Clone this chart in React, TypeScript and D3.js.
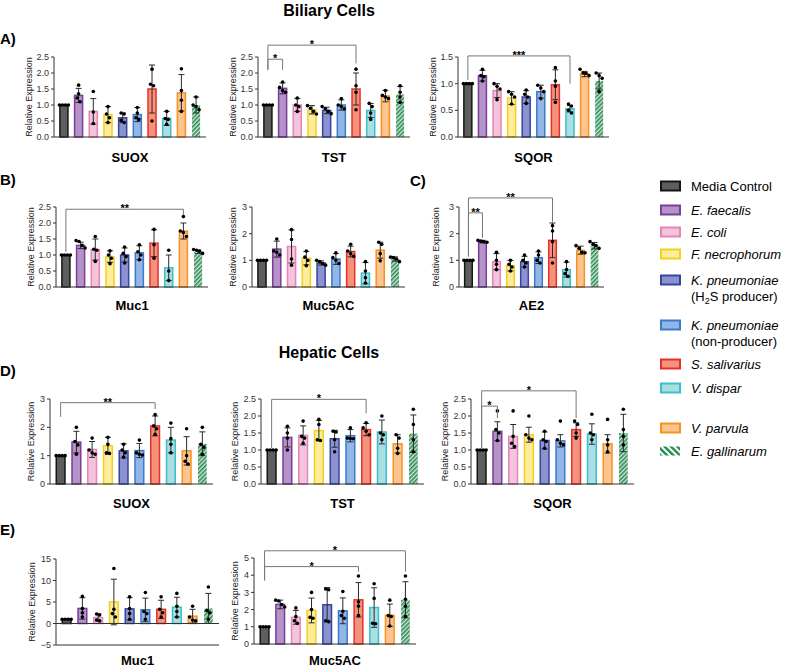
import React from 'react';
import * as d3 from 'd3';

// bar order: Media Control, E. faecalis, E. coli, F. necrophorum, K. pneumoniae (H2S),
// K. pneumoniae (non-producer), S. salivarius, V. dispar, V. parvula, E. gallinarum
const fills = ['#5e5e5e', '#b592c9', '#f4c3dc', '#fcec9c', '#8b92cf', '#93b6e6', '#f5927c', '#a9dfe2', '#fcc48f', 'url(#hatchBar)'];
const strokes = ['#161616', '#7a3e98', '#e485b8', '#f2d01e', '#34479e', '#3a7bcc', '#e8302a', '#3bbfc8', '#f7921e', '#2e8b57'];

const legendNames = ['Media Control', 'E. faecalis', 'E. coli', 'F. necrophorum', 'K. pneumoniae', 'K. pneumoniae', 'S. salivarius', 'V. dispar', 'V. parvula', 'E. gallinarum'];
const legendSecond = ['', '', '', '', 'h2s', '(non-producer)', '', '', '', ''];

// ---- Biliary cells ----
const bilSuoxMean = [1.0, 1.3, 0.8, 0.7, 0.6, 0.7, 1.5, 0.58, 1.38, 1.0];
const bilSuoxSd = [0, 0.22, 0.4, 0.25, 0.15, 0.22, 0.75, 0.22, 0.57, 0.25];
const bilSuoxPts = [[1, 1, 1, 1], [1.62, 1.35, 1.22, 1.1], [1.42, 0.78, 0.42], [0.95, 0.72, 0.6, 0.45], [0.75, 0.72, 0.52, 0.45], [0.92, 0.75, 0.6, 0.55], [2.12, 1.65, 1.6, 0.5], [0.8, 0.58, 0.55, 0.4], [2.13, 1.45, 1.15, 0.8], [1.25, 1.0, 0.95, 0.85]];

const bilTstMean = [1.0, 1.52, 1.0, 0.85, 0.83, 1.0, 1.5, 0.83, 1.28, 1.33];
const bilTstSd = [0, 0.17, 0.2, 0.13, 0.1, 0.16, 0.5, 0.22, 0.18, 0.25];
const bilTstPts = [[1, 1, 1, 1], [1.72, 1.55, 1.45, 1.4], [1.22, 1.0, 0.95, 0.8], [0.98, 0.9, 0.8, 0.72], [0.95, 0.88, 0.8, 0.73], [1.2, 1.0, 0.95, 0.88], [2.12, 1.6, 1.4, 0.85], [1.05, 0.95, 0.75, 0.55], [1.45, 1.3, 1.25, 1.2], [1.6, 1.4, 1.25, 1.08]];

const bilSqorMean = [1.0, 1.15, 0.87, 0.73, 0.75, 0.85, 0.98, 0.53, 1.18, 1.05];
const bilSqorSd = [0, 0.1, 0.13, 0.12, 0.12, 0.12, 0.28, 0.06, 0.05, 0.15];
const bilSqorPts = [[1, 1, 1, 1], [1.27, 1.15, 1.13, 1.05], [1.0, 0.95, 0.9, 0.7], [0.85, 0.8, 0.75, 0.62], [0.88, 0.8, 0.75, 0.63], [0.97, 0.92, 0.85, 0.72], [1.3, 1.05, 0.95, 0.65], [0.62, 0.58, 0.5, 0.45], [1.27, 1.2, 1.19, 1.15], [1.2, 1.15, 1.1, 0.85]];

const bilMuc1Mean = [1.0, 1.3, 1.17, 0.95, 1.0, 1.07, 1.37, 0.6, 1.75, 1.1];
const bilMuc1Sd = [0, 0.1, 0.33, 0.18, 0.22, 0.22, 0.42, 0.4, 0.25, 0.05];
const bilMuc1Pts = [[1, 1, 1, 1], [1.45, 1.42, 1.3, 1.22], [1.58, 1.18, 1.15, 0.8], [1.13, 1.0, 0.9, 0.73], [1.25, 1.05, 0.95, 0.75], [1.32, 1.1, 1.0, 0.85], [1.8, 1.32, 0.9], [1.15, 0.5, 0.2], [2.2, 1.75, 1.7, 1.58], [1.17, 1.15, 1.12, 1.05]];

const bilMuc5acMean = [1.0, 1.42, 1.52, 1.08, 0.9, 1.05, 1.33, 0.52, 1.38, 1.05];
const bilMuc5acSd = [0, 0.3, 0.62, 0.25, 0.08, 0.2, 0.2, 0.4, 0.3, 0.08];
const bilMuc5acPts = [[1, 1, 1, 1], [1.8, 1.35, 1.3, 1.2], [2.15, 1.78, 1.05, 0.82], [1.35, 1.12, 1.0, 0.8], [1.0, 0.95, 0.88, 0.82], [1.28, 1.1, 1.0, 0.88], [1.6, 1.35, 1.25, 1.15], [0.95, 0.6, 0.35, 0.15], [1.68, 1.6, 1.25, 0.98], [1.12, 1.1, 1.05, 0.95]];

const bilAe2Mean = [1.0, 1.7, 0.95, 0.8, 0.95, 1.1, 1.75, 0.65, 1.38, 1.55];
const bilAe2Sd = [0, 0.05, 0.3, 0.2, 0.2, 0.22, 0.65, 0.28, 0.15, 0.12];
const bilAe2Pts = [[1, 1, 1, 1], [1.75, 1.72, 1.7, 1.68], [1.3, 1.0, 0.85, 0.65], [1.0, 0.85, 0.75, 0.6], [1.2, 1.0, 0.9, 0.75], [1.35, 1.2, 1.0, 0.9], [2.3, 2.1, 1.7, 0.9], [0.95, 0.65, 0.5, 0.4], [1.55, 1.45, 1.3, 1.28], [1.7, 1.6, 1.55, 1.45]];

// ---- Hepatic cells ----
const hepSuoxMean = [1.0, 1.48, 1.22, 1.35, 1.17, 1.18, 2.05, 1.55, 1.17, 1.42];
const hepSuoxSd = [0, 0.38, 0.28, 0.3, 0.25, 0.25, 0.35, 0.45, 0.5, 0.42];
const hepSuoxPts = [[1, 1, 1, 1], [2.0, 1.5, 1.38, 1.05], [1.62, 1.2, 1.1, 1.05], [1.65, 1.4, 1.1, 1.08], [1.4, 1.2, 1.1, 0.95], [1.55, 1.1, 1.05, 1.02], [2.45, 2.05, 1.95, 1.75], [2.15, 1.6, 1.4, 1.1], [1.95, 1.0, 0.8, 0.7], [2.0, 1.4, 1.3, 1.05]];

const hepTstMean = [1.0, 1.37, 1.43, 1.57, 1.33, 1.42, 1.6, 1.53, 1.18, 1.48];
const hepTstSd = [0, 0.28, 0.28, 0.3, 0.25, 0.18, 0.18, 0.35, 0.27, 0.55];
const hepTstPts = [[1, 1, 1, 1], [1.7, 1.5, 1.35, 1.0], [1.85, 1.4, 1.35, 1.2], [1.9, 1.75, 1.3, 1.28], [1.55, 1.53, 1.3, 0.95], [1.65, 1.35, 1.34, 1.33], [1.8, 1.65, 1.55, 1.45], [2.0, 1.5, 1.45, 1.3], [1.45, 1.35, 1.05, 0.9], [2.2, 1.75, 1.3, 0.95]];

const hepSqorMean = [1.0, 1.55, 1.4, 1.45, 1.28, 1.27, 1.6, 1.47, 1.18, 1.5];
const hepSqorSd = [0, 0.28, 0.35, 0.22, 0.25, 0.18, 0.2, 0.3, 0.27, 0.55];
const hepSqorPts = [[1, 1, 1, 1], [2.15, 1.6, 1.5, 1.28], [2.15, 1.4, 1.2, 1.1], [2.0, 1.45, 1.35, 1.3], [1.55, 1.3, 1.25, 1.05], [1.85, 1.3, 1.2, 1.15], [1.85, 1.75, 1.5, 1.35], [2.05, 1.5, 1.45, 1.3], [1.9, 1.3, 1.15, 0.95], [2.2, 1.6, 1.4, 1.15]];

const hepMuc1Mean = [1.0, 3.5, 1.4, 5.0, 3.4, 3.2, 3.3, 3.8, 1.7, 3.5];
const hepMuc1Sd = [0, 2.5, 0.8, 5.3, 2.6, 2.7, 2.1, 2.3, 1.6, 3.5];
const hepMuc1Pts = [[1, 1, 1, 1], [6.3, 3.5, 2.5, 1.5], [2.2, 2.0, 0.8, 0.6], [12.8, 3.3, 2.3, 1.5], [6.2, 3.5, 2.3, 1.0], [7.2, 2.8, 2.3, 1.0], [6.2, 3.3, 2.5, 1.5], [7.0, 4.0, 2.8, 1.5], [4.0, 1.5, 0.8, 0.6], [8.5, 3.0, 2.5, 1.0]];

const hepMuc5acMean = [1.0, 2.3, 1.55, 1.95, 2.28, 1.93, 2.57, 2.12, 1.67, 2.57];
const hepMuc5acSd = [0, 0.25, 0.4, 0.72, 1.0, 0.75, 1.0, 1.15, 0.65, 1.05];
const hepMuc5acPts = [[1, 1, 1, 1], [2.55, 2.5, 2.3, 2.15], [2.1, 1.6, 1.35, 1.2], [3.0, 2.0, 1.55, 1.5], [3.2, 3.15, 1.35, 1.3], [3.05, 1.9, 1.65, 1.5], [3.95, 2.45, 2.2, 1.65], [3.5, 2.65, 1.2, 1.18], [2.55, 1.65, 1.6, 1.05], [3.95, 2.6, 2.2, 1.6]];

const FONT = '"Liberation Sans", Arial, sans-serif';

type Bracket = { a: number; b: number; y: number; ya: number; yb: number; label: string };
type PanelCfg = {
  title: string; x0: number; x1: number; yTop: number; yBot: number; titleGap: number;
  domain: [number, number]; ticks: number[]; fmt: string; labelGap: number;
  mean: number[]; sd: number[]; pts: number[][]; brackets: Bracket[];
};

// spread points that sit close together sideways, like Prism's scatter
function spread(vals: number[], thresh: number) {
  const idx = vals.map((_, i) => i).sort((a, b) => vals[b] - vals[a]);
  const out = new Array(vals.length).fill(0);
  let g = [idx[0]];
  const flush = () => g.forEach((k, j) => { out[k] = (j - (g.length - 1) / 2) * 3; });
  for (let i = 1; i < idx.length; i++) {
    if (vals[g[g.length - 1]] - vals[idx[i]] < thresh) g.push(idx[i]);
    else { flush(); g = [idx[i]]; }
  }
  flush();
  return out;
}

function Panel({ c }: { c: PanelCfg }) {
  const x = d3.scaleBand<number>().domain(d3.range(10)).range([c.x0, c.x1]).paddingInner(0.35).paddingOuter(0.35);
  const y = d3.scaleLinear().domain(c.domain).range([c.yBot, c.yTop]);
  const fmt = d3.format(c.fmt);
  const bw = x.bandwidth();
  const base = y(Math.max(0, c.domain[0]));
  const thresh = (c.domain[1] - c.domain[0]) * 0.05;
  return (
    <g>
      {c.mean.map((m, i) => (
        <rect key={'b' + i} x={x(i)! + 0.75} y={y(m)} width={bw - 1.5} height={base - y(m)}
          fill={fills[i]} stroke={i === 9 ? 'none' : strokes[i]} strokeWidth={1.5} />
      ))}
      {c.mean.map((m, i) => {
        const cx = x(i)! + bw / 2;
        const s = c.sd[i];
        if (!s) return null;
        return (
          <g key={'e' + i} stroke="#2a2a2a" strokeWidth={1}>
            <line x1={cx} x2={cx} y1={y(m - s)} y2={y(m + s)} />
            <line x1={cx - 3} x2={cx + 3} y1={y(m + s)} y2={y(m + s)} />
            <line x1={cx - 3} x2={cx + 3} y1={y(m - s)} y2={y(m - s)} />
          </g>
        );
      })}
      {c.pts.map((p, i) => {
        const cx = x(i)! + bw / 2;
        const off = spread(p, thresh);
        return p.map((v, j) => <circle key={'p' + i + '-' + j} cx={cx + off[j]} cy={y(v)} r={1.8} fill="#000" />);
      })}
      {/* axes */}
      <g stroke="#333" strokeWidth={1} fill="none">
        <line x1={c.x0} x2={c.x0} y1={c.yTop} y2={c.yBot} />
        <line x1={c.x0} x2={c.x1} y1={c.yBot} y2={c.yBot} />
        {c.domain[0] < 0 && <line x1={c.x0} x2={c.x1} y1={y(0)} y2={y(0)} />}
        {c.ticks.map((t) => <line key={'t' + t} x1={c.x0 - 3} x2={c.x0} y1={y(t)} y2={y(t)} />)}
      </g>
      {c.ticks.map((t) => (
        <text key={'tl' + t} x={c.x0 - 5} y={y(t)} dy="0.35em" textAnchor="end" fontSize={9} fill="#333">{fmt(t)}</text>
      ))}
      <text transform={`translate(${c.x0 - c.labelGap},${(c.yTop + c.yBot) / 2}) rotate(-90)`} textAnchor="middle" dy="0.35em" fontSize={9} fill="#222">
        Relative Expression
      </text>
      <text x={(c.x0 + c.x1) / 2} y={c.yBot + c.titleGap} dy="0.35em" textAnchor="middle" fontSize={13} fontWeight="bold">{c.title}</text>
      {c.brackets.map((b, k) => {
        const xa = x(b.a)! + bw / 2;
        const xb = x(b.b)! + bw / 2;
        return (
          <g key={'k' + k}>
            <path d={`M${xa},${y(b.ya)}V${y(b.y)}H${xb}V${y(b.yb)}`} stroke="#777" fill="none" strokeWidth={1} />
            <text x={(xa + xb) / 2} y={y(b.y) + 3} textAnchor="middle" fontSize={11} fontWeight="bold" fill="#000">{b.label}</text>
          </g>
        );
      })}
    </g>
  );
}

const t25 = [0, 0.5, 1, 1.5, 2, 2.5];
const t3 = [0, 1, 2, 3];

const panels: PanelCfg[] = [
  { title: 'SUOX', x0: 54, x1: 206, yTop: 57, yBot: 137, titleGap: 20, domain: [0, 2.5], ticks: t25, fmt: '.1f', labelGap: 25, mean: bilSuoxMean, sd: bilSuoxSd, pts: bilSuoxPts, brackets: [] },
  { title: 'TST', x0: 258, x1: 410, yTop: 57, yBot: 137, titleGap: 20, domain: [0, 2.5], ticks: t25, fmt: '.1f', labelGap: 25, mean: bilTstMean, sd: bilTstSd, pts: bilTstPts,
    brackets: [{ a: 0, b: 1, y: 2.43, ya: 2.1, yb: 2.1, label: '*' }, { a: 0, b: 6, y: 2.87, ya: 2.1, yb: 2.3, label: '*' }] },
  { title: 'SQOR', x0: 458, x1: 609, yTop: 57, yBot: 137, titleGap: 20, domain: [0, 1.5], ticks: [0, 0.5, 1, 1.5], fmt: '.1f', labelGap: 25, mean: bilSqorMean, sd: bilSqorSd, pts: bilSqorPts,
    brackets: [{ a: 0, b: 7, y: 1.52, ya: 1.07, yb: 1.0, label: '***' }] },
  { title: 'Muc1', x0: 56, x1: 208, yTop: 207, yBot: 287, titleGap: 18, domain: [0, 2.5], ticks: t25, fmt: '.1f', labelGap: 25, mean: bilMuc1Mean, sd: bilMuc1Sd, pts: bilMuc1Pts,
    brackets: [{ a: 0, b: 8, y: 2.43, ya: 1.1, yb: 2.25, label: '**' }] },
  { title: 'Muc5AC', x0: 252, x1: 405, yTop: 207, yBot: 287, titleGap: 18, domain: [0, 3], ticks: t3, fmt: 'd', labelGap: 19, mean: bilMuc5acMean, sd: bilMuc5acSd, pts: bilMuc5acPts, brackets: [] },
  { title: 'AE2', x0: 459, x1: 604, yTop: 207, yBot: 287, titleGap: 18, domain: [0, 3], ticks: t3, fmt: 'd', labelGap: 23, mean: bilAe2Mean, sd: bilAe2Sd, pts: bilAe2Pts,
    brackets: [{ a: 0, b: 1, y: 2.78, ya: 1.14, yb: 1.84, label: '**' }, { a: 0, b: 6, y: 3.34, ya: 1.14, yb: 2.45, label: '**' }] },
  { title: 'SUOX', x0: 50, x1: 213, yTop: 399, yBot: 484, titleGap: 19, domain: [0, 3], ticks: t3, fmt: 'd', labelGap: 19, mean: hepSuoxMean, sd: hepSuoxSd, pts: hepSuoxPts,
    brackets: [{ a: 0, b: 6, y: 2.87, ya: 2.37, yb: 2.65, label: '**' }] },
  { title: 'TST', x0: 261, x1: 424, yTop: 399, yBot: 484, titleGap: 19, domain: [0, 2.5], ticks: t25, fmt: '.1f', labelGap: 26, mean: hepTstMean, sd: hepTstSd, pts: hepTstPts,
    brackets: [{ a: 0, b: 6, y: 2.49, ya: 1.06, yb: 2.08, label: '*' }] },
  { title: 'SQOR', x0: 471, x1: 634, yTop: 399, yBot: 484, titleGap: 19, domain: [0, 2.5], ticks: t25, fmt: '.1f', labelGap: 26, mean: hepSqorMean, sd: hepSqorSd, pts: hepSqorPts,
    brackets: [{ a: 0, b: 1, y: 2.29, ya: 1.06, yb: 1.94, label: '*' }, { a: 0, b: 6, y: 2.74, ya: 1.06, yb: 1.94, label: '*' }] },
  { title: 'Muc1', x0: 56, x1: 219, yTop: 559, yBot: 645, titleGap: 15, domain: [-5, 15], ticks: [-5, 0, 5, 10, 15], fmt: 'd', labelGap: 24, mean: hepMuc1Mean, sd: hepMuc1Sd, pts: hepMuc1Pts, brackets: [] },
  { title: 'Muc5AC', x0: 254, x1: 416, yTop: 558, yBot: 644, titleGap: 16, domain: [0, 5], ticks: [0, 1, 2, 3, 4, 5], fmt: 'd', labelGap: 19, mean: hepMuc5acMean, sd: hepMuc5acSd, pts: hepMuc5acPts,
    brackets: [{ a: 0, b: 6, y: 4.5, ya: 3.7, yb: 4.2, label: '*' }, { a: 0, b: 9, y: 5.42, ya: 3.7, yb: 4.2, label: '*' }] },
];

const letters = [['A)', 0, 39], ['B)', 0, 180], ['C)', 410, 181], ['D)', 0, 371], ['E)', 0, 530]] as const;
const legendY = [186, 210, 232, 254, 280, 325, 364, 388, 428, 451];

export default function App() {
  return (
    <svg width={789} height={670} style={{ position: 'absolute', left: 0, top: 0, background: '#fff' }} fontFamily={FONT}>
      <defs>
        <pattern id="hatchBar" patternUnits="userSpaceOnUse" width={3} height={3} patternTransform="rotate(45)">
          <rect width={3} height={3} fill="#cde8d5" />
          <line x1={0.8} y1={0} x2={0.8} y2={3} stroke="#2e8b57" strokeWidth={1.6} />
        </pattern>
        <pattern id="hatchLegend" patternUnits="userSpaceOnUse" width={4.5} height={4.5} patternTransform="rotate(-45)">
          <rect width={4.5} height={4.5} fill="#fff" />
          <line x1={1.2} y1={0} x2={1.2} y2={4.5} stroke="#1f8a4c" strokeWidth={2.4} />
        </pattern>
      </defs>
      <rect width={789} height={670} fill="#fff" />
      <text x={329} y={10} dy="0.35em" textAnchor="middle" fontSize={16} fontWeight="bold">Biliary Cells</text>
      <text x={329} y={352} dy="0.35em" textAnchor="middle" fontSize={16} fontWeight="bold">Hepatic Cells</text>
      {letters.map(([t, lx, ly]) => (
        <text key={t} x={lx} y={ly} dy="0.35em" fontSize={15} fontWeight="bold">{t}</text>
      ))}
      {panels.map((c, i) => <Panel key={i} c={c} />)}
      <g>
        {legendNames.map((n, i) => (
          <g key={'l' + i}>
            {i === 9 ? (
              <rect x={660} y={legendY[i] - 4.5} width={20} height={9} fill="url(#hatchLegend)" />
            ) : (
              <rect x={661} y={legendY[i] - 4.5} width={19} height={9} fill={fills[i]} stroke={strokes[i]} strokeWidth={2} />
            )}
            <text x={691} y={legendY[i]} dy="0.35em" fontSize={13} fontStyle={i === 0 ? 'normal' : 'italic'}>{n}</text>
            {legendSecond[i] === 'h2s' && (
              <text x={691} y={legendY[i] + 16} dy="0.35em" fontSize={13}>
                (H<tspan fontSize={9} dy={3}>2</tspan><tspan dy={-3}>S producer)</tspan>
              </text>
            )}
            {legendSecond[i] && legendSecond[i] !== 'h2s' && (
              <text x={691} y={legendY[i] + 16} dy="0.35em" fontSize={13}>{legendSecond[i]}</text>
            )}
          </g>
        ))}
      </g>
    </svg>
  );
}
